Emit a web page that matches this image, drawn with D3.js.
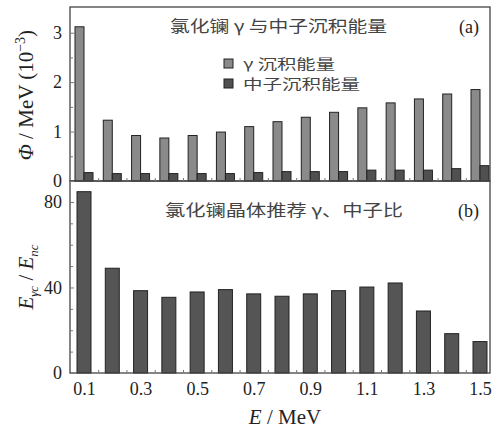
<!DOCTYPE html>
<html><head><meta charset="utf-8">
<script src="https://cdn.jsdelivr.net/npm/d3@7"></script>
<style>body{margin:0;background:#fff}svg{display:block}</style>
</head><body>
<script>
const energies = [0.1,0.2,0.3,0.4,0.5,0.6,0.7,0.8,0.9,1.0,1.1,1.2,1.3,1.4,1.5];
const gammaDep = [3.12,1.23,0.92,0.87,0.92,0.99,1.10,1.20,1.29,1.39,1.48,1.58,1.66,1.76,1.85];
const neutronDep = [0.17,0.15,0.15,0.15,0.15,0.15,0.17,0.19,0.19,0.19,0.22,0.22,0.22,0.25,0.31];
const ratio = [84.8,49.0,38.5,35.4,37.9,39.0,37.0,35.9,37.0,38.5,40.2,42.1,29.0,18.4,14.7];
const xTicks = [0.1,0.3,0.5,0.7,0.9,1.1,1.3,1.5];
const yTicksA = [0,1,2,3];
const yTicksB = [0,40,80];
const legendLabels = ["γ 沉积能量","中子沉积能量"];

const W=493,H=429;
const serif = "'Liberation Serif','DejaVu Serif',serif";
const cjk = "'Noto Sans CJK SC','Liberation Serif',serif";
const svg = d3.select("body").append("svg").attr("width",W).attr("height",H);

const L=70,R=490,TA=7,BA=181,BB=373;
const x = d3.scaleLinear().domain([0.1,1.5]).range([84,480]);
const yA = d3.scaleLinear().domain([0,3.52]).range([BA,TA]);
const yB = d3.scaleLinear().domain([0,89.8]).range([BB,BA]);
const cG="#8a8a8a", cN="#505050", cR="#555555";

// panel a bars
const ga = svg.append("g");
ga.selectAll("rect.g").data(energies).join("rect")
  .attr("x",(d)=>x(d)-9).attr("width",9)
  .attr("y",(d,i)=>yA(gammaDep[i])).attr("height",(d,i)=>yA(0)-yA(gammaDep[i]))
  .attr("fill",cG).attr("stroke","#222").attr("stroke-width",1);
ga.selectAll("rect.n").data(energies).join("rect")
  .attr("x",(d)=>x(d)).attr("width",9)
  .attr("y",(d,i)=>yA(neutronDep[i])).attr("height",(d,i)=>yA(0)-yA(neutronDep[i]))
  .attr("fill",cN).attr("stroke","#222").attr("stroke-width",1);

// panel b bars
svg.append("g").selectAll("rect").data(energies).join("rect")
  .attr("x",(d)=>x(d)-7).attr("width",14)
  .attr("y",(d,i)=>yB(ratio[i])).attr("height",(d,i)=>yB(0)-yB(ratio[i]))
  .attr("fill",cR).attr("stroke","#222").attr("stroke-width",1);

// frames
svg.append("rect").attr("x",L).attr("y",TA).attr("width",R-L).attr("height",BA-TA)
  .attr("fill","none").attr("stroke","#444").attr("stroke-width",1.3);
svg.append("rect").attr("x",L).attr("y",BA).attr("width",R-L).attr("height",BB-BA)
  .attr("fill","none").attr("stroke","#444").attr("stroke-width",1.3);

// axes
svg.append("g").attr("transform",`translate(${L},0)`)
  .call(d3.axisLeft(yA).tickValues(yTicksA).tickSize(-4).tickPadding(8).tickFormat(d3.format("d")));
svg.append("g").attr("transform",`translate(${L},0)`)
  .call(d3.axisLeft(yA).tickValues(d3.range(0.5,3.5,1)).tickSize(-3).tickFormat(""));
svg.append("g").attr("transform",`translate(${L},0)`)
  .call(d3.axisLeft(yB).tickValues(yTicksB).tickSize(-4).tickPadding(8).tickFormat(d3.format("d")));
svg.append("g").attr("transform",`translate(${L},0)`)
  .call(d3.axisLeft(yB).tickValues(d3.range(10,90,10).filter(v=>v!==40&&v!==80)).tickSize(-3).tickFormat(""));
svg.append("g").attr("transform",`translate(0,${BB})`)
  .call(d3.axisBottom(x).tickValues(xTicks).tickSize(0).tickPadding(9).tickFormat(d3.format(".1f")));
svg.append("g").attr("transform",`translate(0,${BB})`)
  .call(d3.axisBottom(x).tickValues(d3.range(0.15,1.5,0.1)).tickSize(-3).tickFormat(""));
svg.append("g").attr("transform",`translate(0,${BA})`)
  .call(d3.axisBottom(x).tickValues(d3.range(0.15,1.5,0.1)).tickSize(-3).tickFormat(""));
svg.selectAll(".domain").remove();
svg.selectAll(".tick line").attr("stroke","#777");
svg.selectAll(".tick text").attr("font-family",serif).attr("font-size",18).attr("fill","#222");

// titles
svg.append("text").attr("x",170).attr("y",32)
  .attr("font-family",cjk).attr("font-size",16).attr("fill","#444")
  .attr("textLength",217).attr("lengthAdjust","spacingAndGlyphs")
  .text("氯化镧 γ 与中子沉积能量");
svg.append("text").attr("x",479).attr("y",33).attr("text-anchor","end")
  .attr("font-family",serif).attr("font-size",18).attr("fill","#222").text("(a)");
svg.append("text").attr("x",165).attr("y",216)
  .attr("font-family",cjk).attr("font-size",16).attr("fill","#444")
  .attr("textLength",238).attr("lengthAdjust","spacingAndGlyphs")
  .text("氯化镧晶体推荐 γ、中子比");
svg.append("text").attr("x",479).attr("y",217).attr("text-anchor","end")
  .attr("font-family",serif).attr("font-size",18).attr("fill","#222").text("(b)");

// legend
const lg = svg.append("g");
const legLen = [92,117];
[cG,cN].forEach((c,i)=>{
  lg.append("rect").attr("x",224).attr("y",59+i*20).attr("width",9).attr("height",9)
    .attr("fill",c).attr("stroke","#222").attr("stroke-width",1);
  lg.append("text").attr("x",243).attr("y",69+i*20)
    .attr("font-family",cjk).attr("font-size",14).attr("fill","#444")
    .attr("textLength",legLen[i]).attr("lengthAdjust","spacingAndGlyphs")
    .text(legendLabels[i]);
});

// y label a
const la = svg.append("text").attr("transform","translate(33,95) rotate(-90)")
  .attr("text-anchor","middle").attr("font-family",serif).attr("font-size",21).attr("fill","#222");
la.append("tspan").attr("font-style","italic").text("Φ");
la.append("tspan").text(" / MeV (10");
la.append("tspan").attr("font-size",14).attr("dy",-8).text("−3");
la.append("tspan").attr("dy",8).text(")");

// y label b
const lb = svg.append("text").attr("transform","translate(33,277) rotate(-90)")
  .attr("text-anchor","middle").attr("font-family",serif).attr("font-size",21).attr("fill","#222");
lb.append("tspan").attr("font-style","italic").text("E");
lb.append("tspan").attr("font-size",13).attr("dy",5).attr("font-style","italic").text("γc");
lb.append("tspan").attr("dy",-5).text(" / ");
lb.append("tspan").attr("font-style","italic").text("E");
lb.append("tspan").attr("font-size",13).attr("dy",5).attr("font-style","italic").text("nc");

// x label
const lx = svg.append("text").attr("x",285).attr("y",424).attr("text-anchor","middle")
  .attr("font-family",serif).attr("font-size",21).attr("fill","#222");
lx.append("tspan").attr("font-style","italic").text("E");
lx.append("tspan").text(" / MeV");
</script>
</body></html>
